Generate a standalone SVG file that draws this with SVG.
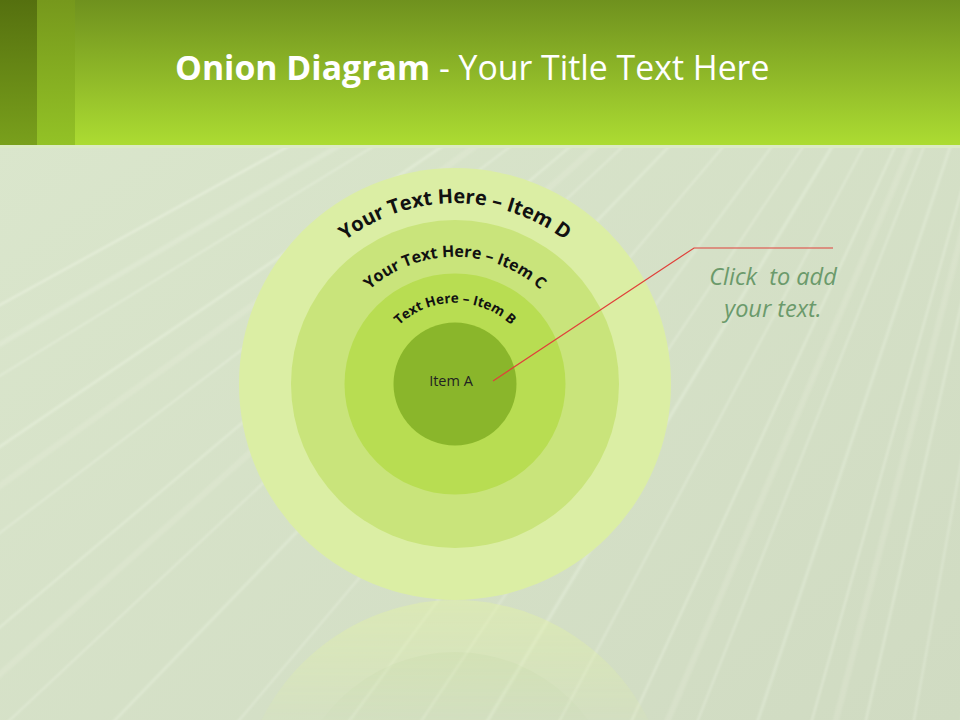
<svg xmlns="http://www.w3.org/2000/svg" width="960" height="720" viewBox="0 0 960 720">
<style>
.arc{font-family:"Open Sans","Liberation Sans",sans-serif;font-weight:bold;fill:#111}
.title{font-family:"Open Sans","Liberation Sans",sans-serif;fill:#fff;font-size:33.8px}
.note{font-family:"Open Sans","Liberation Sans",sans-serif;font-style:italic;fill:#6b9a6b;font-size:23.5px}
.streak{stroke:#f6fbee;fill:none}
</style>
<defs>
<linearGradient id="hdr" x1="0" y1="0" x2="0" y2="1">
<stop offset="0" stop-color="#6f911e"/>
<stop offset="1" stop-color="#acdc32"/>
</linearGradient>
<linearGradient id="bar1" x1="0" y1="0" x2="0" y2="1">
<stop offset="0" stop-color="#55700f"/>
<stop offset="1" stop-color="#79a01c"/>
</linearGradient>
<linearGradient id="bar2" x1="0" y1="0" x2="0" y2="1">
<stop offset="0" stop-color="#76981c"/>
<stop offset="1" stop-color="#93c226"/>
</linearGradient>
<linearGradient id="bg" x1="0" y1="0" x2="1" y2="1">
<stop offset="0" stop-color="#dbe7cd"/>
<stop offset="1" stop-color="#d0dbc2"/>
</linearGradient>
<linearGradient id="fade" x1="0" y1="0" x2="0" y2="1">
<stop offset="0" stop-color="#fff" stop-opacity="0.5"/>
<stop offset="1" stop-color="#fff" stop-opacity="0.1"/>
</linearGradient>
<filter id="soft" x="-10%" y="-10%" width="120%" height="120%">
<feGaussianBlur stdDeviation="1.2"/>
</filter>
<mask id="reflMask" maskUnits="userSpaceOnUse" x="0" y="600" width="960" height="120">
<rect x="0" y="600" width="960" height="120" fill="url(#fade)"/>
</mask>
<clipPath id="body"><rect x="0" y="146" width="960" height="574"/></clipPath>
<path id="arcD" d="M 276.8 352.5 A 181 181 0 0 1 633.2 352.5"/>
<path id="arcC" d="M 329.9 361.9 A 127 127 0 0 1 580.1 361.9"/>
<path id="arcB" d="M 375.2 369.9 A 81 81 0 0 1 534.8 369.9"/>
</defs>

<g id="background">
<rect x="0" y="0" width="960" height="720" fill="url(#bg)"/>
<g clip-path="url(#body)">
<g class="streak" filter="url(#soft)">
<path d="M1100 -300 L-300 470" stroke-width="2" opacity="0.45"/>
<path d="M1100 -300 L-300 520" stroke-width="5" opacity="0.2"/>
<path d="M1100 -300 L-300 560" stroke-width="1.5" opacity="0.4"/>
<path d="M1100 -300 L-300 650" stroke-width="2.5" opacity="0.35"/>
<path d="M1100 -300 L-300 700" stroke-width="6" opacity="0.15"/>
<path d="M1100 -300 L-300 760" stroke-width="1.5" opacity="0.4"/>
<path d="M1100 -300 L-300 880" stroke-width="2" opacity="0.35"/>
<path d="M1100 -300 L-300 940" stroke-width="6" opacity="0.15"/>
<path d="M1100 -300 L-300 1010" stroke-width="1.5" opacity="0.4"/>
<path d="M1100 -300 L-300 1150" stroke-width="2.5" opacity="0.3"/>
<path d="M1100 -300 L-250 1300" stroke-width="1.5" opacity="0.4"/>
<path d="M1100 -300 L-150 1400" stroke-width="2" opacity="0.3"/>
<path d="M1100 -300 L-30 1400" stroke-width="1.5" opacity="0.4"/>
<path d="M1100 -300 L80 1400" stroke-width="3" opacity="0.3"/>
<path d="M1100 -300 L200 1400" stroke-width="1.5" opacity="0.4"/>
<path d="M1100 -300 L320 1400" stroke-width="2" opacity="0.35"/>
<path d="M1100 -300 L380 1400" stroke-width="6" opacity="0.15"/>
<path d="M1100 -300 L430 1400" stroke-width="1.5" opacity="0.4"/>
<path d="M1100 -300 L530 1400" stroke-width="2.5" opacity="0.3"/>
<path d="M1100 -300 L620 1400" stroke-width="1.5" opacity="0.45"/>
<path d="M1100 -300 L660 1400" stroke-width="6" opacity="0.15"/>
<path d="M1100 -300 L710 1400" stroke-width="2" opacity="0.35"/>
<path d="M1100 -300 L790 1400" stroke-width="1.5" opacity="0.4"/>
<path d="M1100 -300 L870 1400" stroke-width="2.5" opacity="0.35"/>
<path d="M1100 -300 L950 1400" stroke-width="1.5" opacity="0.4"/>
<path d="M1100 -300 L1020 1400" stroke-width="2" opacity="0.35"/>
<path d="M1100 -300 L1090 1400" stroke-width="1.5" opacity="0.4"/>
</g>
</g>
</g>

<g id="header">
<rect x="0" y="0" width="960" height="145" fill="url(#hdr)"/>
<rect x="0" y="0" width="37" height="145" fill="url(#bar1)"/>
<rect x="37" y="0" width="38" height="145" fill="url(#bar2)"/>
<rect x="0" y="145" width="960" height="3" fill="#dcebc4"/>
<text class="title" x="175" y="80"><tspan font-weight="bold">Onion Diagram</tspan> - Your Title Text Here</text>
</g>

<g id="reflection" mask="url(#reflMask)">
<circle cx="455" cy="816" r="216" fill="#e2f2a6"/>
<circle cx="455" cy="816" r="164" fill="#d3e995"/>
</g>

<g id="itemD">
<circle cx="455" cy="384" r="216" fill="#dbeea4"/>
<text class="arc" font-size="20"><textPath href="#arcD" startOffset="50%" text-anchor="middle">Your Text Here – Item D</textPath></text>
</g>
<g id="itemC">
<circle cx="455" cy="384" r="164" fill="#c9e47b"/>
<text class="arc" font-size="16"><textPath href="#arcC" startOffset="50%" text-anchor="middle">Your Text Here – Item C</textPath></text>
</g>
<g id="itemB">
<circle cx="455" cy="384" r="110.5" fill="#b8dd52"/>
<text class="arc" font-size="13.5"><textPath href="#arcB" startOffset="50%" text-anchor="middle">Text Here – Item B</textPath></text>
</g>
<g id="itemA">
<circle cx="455" cy="384" r="61.5" fill="#8ab62b"/>
<text x="451" y="386" font-family="Open Sans, Liberation Sans, sans-serif" font-size="14.5" fill="#222" text-anchor="middle">Item A</text>
</g>

<g id="connectors">
<polyline points="493,381 694,248 833,248" fill="none" stroke="#e0403a" stroke-width="1.2"/>
</g>

<g id="note">
<text class="note" x="773" y="285" text-anchor="middle" xml:space="preserve">Click  to add</text>
<text class="note" x="773" y="317" text-anchor="middle">your text.</text>
</g>
</svg>
